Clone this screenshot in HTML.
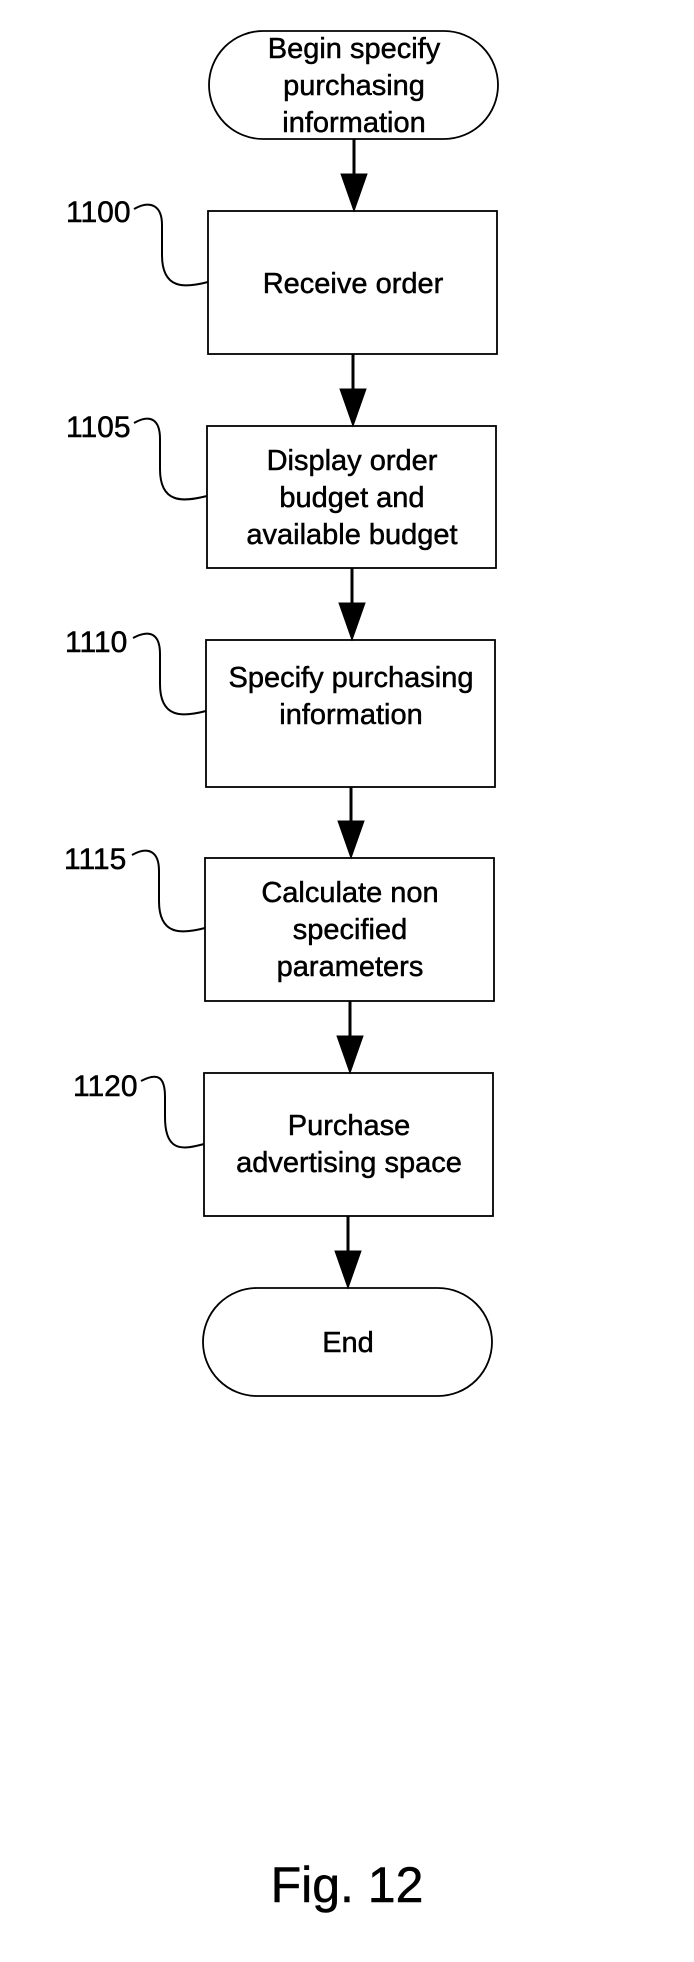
<!DOCTYPE html>
<html><head><style>
body{margin:0;background:#fff}
svg text{font-family:"Liberation Sans",Arial,sans-serif;fill:#000;stroke:#000;stroke-width:0.5}
</style></head><body>
<svg width="694" height="1957" xmlns="http://www.w3.org/2000/svg">
<g fill="none" stroke="#000" stroke-width="1.8">
<rect x="209" y="31" width="289" height="108" rx="54"/>
<rect x="208" y="211" width="289" height="143"/>
<rect x="207" y="426" width="289" height="142"/>
<rect x="206" y="640" width="289" height="147"/>
<rect x="205" y="858" width="289" height="143"/>
<rect x="204" y="1073" width="289" height="143"/>
<rect x="203" y="1288" width="289" height="108" rx="54"/>
</g>
<g fill="#000" stroke="#000">
<line x1="354" y1="139" x2="354" y2="176" stroke-width="3"/><path d="M341,174 L367,174 L354,211z"/>
<line x1="353" y1="354" x2="353" y2="391" stroke-width="3"/><path d="M340,389 L366,389 L353,426z"/>
<line x1="352" y1="568" x2="352" y2="605" stroke-width="3"/><path d="M339,603 L365,603 L352,640z"/>
<line x1="351" y1="787" x2="351" y2="823" stroke-width="3"/><path d="M338,821 L364,821 L351,858z"/>
<line x1="350" y1="1001" x2="350" y2="1038" stroke-width="3"/><path d="M337,1036 L363,1036 L350,1073z"/>
<line x1="348" y1="1216" x2="348" y2="1253" stroke-width="3"/><path d="M335,1251 L361,1251 L348,1288z"/>
</g>
<g fill="none" stroke="#000" stroke-width="2">
<path d="M134,209 C150,200 162,205 162,225 L162,255 C162,290 185,288 208,282"/>
<path d="M134,423 C150,414 160,419 160,439 L160,469 C160,504 183,502 207,496"/>
<path d="M133,638 C150,629 160,634 160,654 L160,684 C160,719 183,717 206,711"/>
<path d="M132,855 C148,846 159,851 159,871 L159,901 C159,936 182,934 205,928"/>
<path d="M141,1081 C158,1072 165,1077 165,1097 L165,1117 C165,1152 182,1150 204,1144"/>
</g>
<g font-size="29" text-anchor="middle">
<text x="354" y="58">Begin specify</text>
<text x="354" y="95">purchasing</text>
<text x="354" y="132">information</text>
<text x="353" y="293">Receive order</text>
<text x="352" y="470">Display order</text>
<text x="352" y="507">budget and</text>
<text x="352" y="544">available budget</text>
<text x="351" y="687">Specify purchasing</text>
<text x="351" y="724">information</text>
<text x="350" y="902">Calculate non</text>
<text x="350" y="939">specified</text>
<text x="350" y="976">parameters</text>
<text x="349" y="1135">Purchase</text>
<text x="349" y="1172">advertising space</text>
<text x="348" y="1352">End</text>
</g>
<g font-size="30">
<text x="66" y="222">1100</text>
<text x="66" y="437">1105</text>
<text x="65" y="652">1110</text>
<text x="64" y="869">1115</text>
<text x="73" y="1096">1120</text>
</g>
<text x="347" y="1902" font-size="50" text-anchor="middle">Fig. 12</text>
</svg>
</body></html>
